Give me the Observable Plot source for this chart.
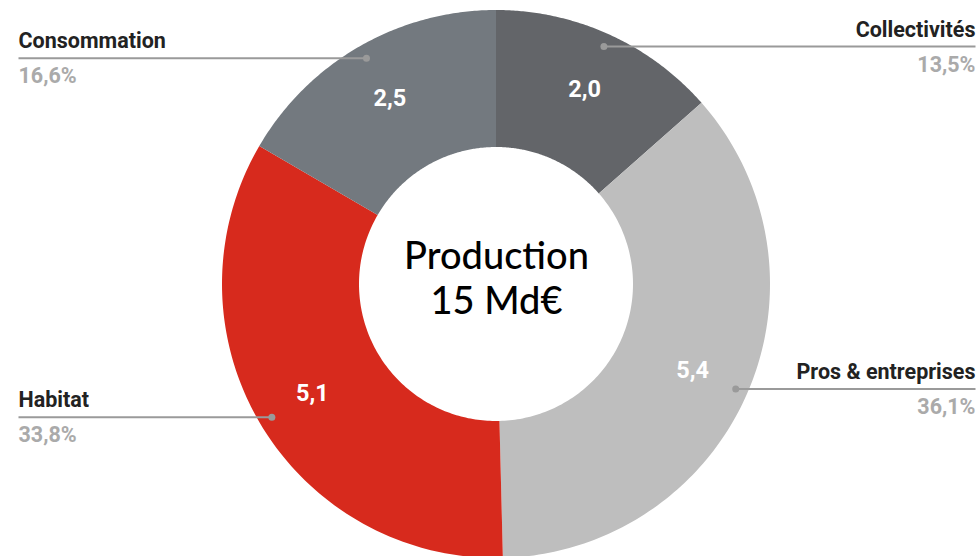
<!DOCTYPE html>
<html>
<head>
<meta charset="utf-8">
<script src="https://cdn.jsdelivr.net/npm/d3@7"></script>
<script src="https://cdn.jsdelivr.net/npm/@observablehq/plot@0.6"></script>
<style>
  html, body { margin: 0; padding: 0; background: #fff; }
  #chart svg { display: block; }
</style>
</head>
<body>
<div id="chart"></div>
<script>
// ---- data ----
const names = ["Collectivités", "Pros & entreprises", "Habitat", "Consommation"];
const values = [2.0, 5.4, 5.1, 2.5];          // Md€
const shares = [13.5, 36.1, 33.8, 16.6];      // %
const colors = ["#636569", "#bebebe", "#d72a1d", "#73797f"];
const centerLines = ["Production", "15 Md€"];

// ---- geometry (pixel units relative to donut centre) ----
const W = 979, H = 556;
const cx = 496, cy = 284;
const rOuter = 274, rInner = 137, rValue = 214, rDot = 261;
const leftEdge = 18 - cx, rightEdge = 975 - cx;

const fmt = v => v.toFixed(1).replace(".", ",");

const pie = d3.pie().sort(null).value(d => d.share)(names.map((n, i) => ({name: n, value: values[i], share: shares[i]})));

const ringRows = [];
const slices = pie.map(p => {
  const a0 = p.startAngle, a1 = p.endAngle, am = (a0 + a1) / 2;
  const N = 120;
  for (let k = 0; k <= N; k++) {
    const a = a0 + (a1 - a0) * k / N;
    ringRows.push({
      name: p.data.name,
      ox: rOuter * Math.sin(a), oy: -rOuter * Math.cos(a),
      ix: rInner * Math.sin(a), iy: -rInner * Math.cos(a)
    });
  }
  const right = am < Math.PI;
  const dx = rDot * Math.sin(am), dy = -rDot * Math.cos(am);
  return {
    name: p.data.name,
    label: fmt(p.data.value),
    pct: fmt(p.data.share) + "%",
    vx: rValue * Math.sin(am), vy: -rValue * Math.cos(am),
    dx, dy,
    ex: right ? rightEdge : leftEdge,
    right
  };
});
const rightSlices = slices.filter(d => d.right);
const leftSlices = slices.filter(d => !d.right);

const centerRows = centerLines.map((t, i) => ({t, y: -16 + i * 45}));

const nameStyle = {fill: "#222", fontSize: 21.5, fontWeight: "bold", fontFamily: "Roboto", lineAnchor: "bottom"};
const pctStyle = {fill: "#aaaaaa", fontSize: 21.5, fontWeight: "bold", fontFamily: "Roboto", lineAnchor: "bottom"};

const chart = Plot.plot({
  width: W,
  height: H,
  margin: 0,
  x: {domain: [-cx, W - cx], range: [0, W], axis: null},
  y: {domain: [-cy, H - cy], range: [0, H], axis: null},
  color: {domain: names, range: colors},
  style: {background: "#fff", fontFamily: "Roboto, sans-serif"},
  marks: [
    Plot.area(ringRows, {x1: "ox", y1: "oy", x2: "ix", y2: "iy", z: "name", fill: "name", curve: "linear"}),
    Plot.link(slices, {x1: "dx", y1: "dy", x2: "ex", y2: "dy", stroke: "#9a9a9a", strokeWidth: 2}),
    Plot.dot(slices, {x: "dx", y: "dy", r: 3.5, fill: "#9a9a9a", stroke: null}),
    Plot.text(slices, {x: "vx", y: "vy", text: "label", fill: "#fff", fontSize: 23.5, fontWeight: "bold", fontFamily: "Roboto"}),
    Plot.text(rightSlices, {x: "ex", y: "dy", dy: -10, text: "name", textAnchor: "end", ...nameStyle}),
    Plot.text(leftSlices, {x: "ex", y: "dy", dy: -10, text: "name", textAnchor: "start", ...nameStyle}),
    Plot.text(rightSlices, {x: "ex", y: "dy", dy: 25, text: "pct", textAnchor: "end", ...pctStyle}),
    Plot.text(leftSlices, {x: "ex", y: "dy", dy: 25, text: "pct", textAnchor: "start", ...pctStyle}),
    Plot.text(centerRows, {x: () => 0, y: "y", text: "t", lineAnchor: "bottom", fill: "#000", fontSize: 38, fontWeight: 500, fontFamily: "Lato"})
  ]
});
document.getElementById("chart").append(chart);
</script>
</body>
</html>
